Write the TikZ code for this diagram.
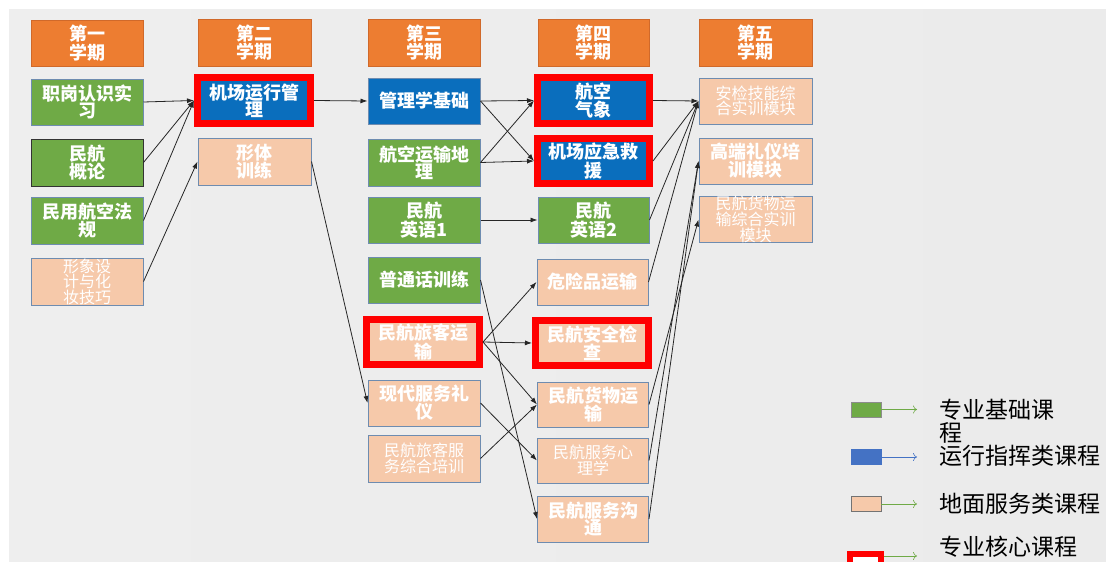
\documentclass[tikz,border=0pt]{standalone}
\usepackage{fontspec}
\newfontfamily\cjk{Noto Sans CJK SC}
\usetikzlibrary{arrows.meta}
\definecolor{hdrc}{HTML}{ED7D31}
\definecolor{hdrd}{HTML}{D0692A}
\definecolor{grn}{HTML}{6FAA46}
\definecolor{blu}{HTML}{0A6EBD}
\definecolor{pch}{HTML}{F6C9AA}
\definecolor{bordc}{HTML}{6E8CB0}
\definecolor{lblue}{HTML}{4472C4}
\definecolor{bgL}{HTML}{EEEEEE}
\definecolor{bgM}{HTML}{F8F8F8}
\definecolor{bgR}{HTML}{EBEBEB}
\begin{document}
\begin{tikzpicture}[x=1pt,y=-1pt,
  box/.style={draw=bordc, line width=1pt, minimum width=112pt, minimum height=46pt,
    inner sep=0pt, align=center, text=white, font=\cjk\bfseries\fontsize{18}{17}\selectfont},
  hdr/.style={box, fill=hdrc, draw=hdrd},
  gbox/.style={box, fill=grn},
  bbox/.style={box, fill=blu},
  pbox/.style={box, fill=pch},
  core/.style={draw=red, line width=7pt, minimum width=113pt, minimum height=46pt},
  small/.style={font=\cjk\fontsize{16}{15.5}\selectfont},
  arr/.style={-{Latex[length=7pt,width=5pt]}, line width=0.8pt, draw=black!85},
  lgsq/.style={draw=black!45, line width=0.6pt, minimum width=30pt, minimum height=15pt, inner sep=0pt},
  larr/.style={-{To[length=4pt,width=8pt]}, line width=0.6pt},
  lgtext/.style={anchor=west, inner sep=0pt, align=left, text=black, font=\cjk\fontsize{23}{23}\selectfont}
]
\useasboundingbox (0,0) rectangle (1106,562);
\fill[white] (0,0) rectangle (1106,562);
\shade[left color=bgL, middle color=bgM, right color=bgR] (9,9) rectangle (1106,561);

% column 1
\node[hdr] (h1) at (87,43) {第一\\学期};
\node[gbox] (c1a) at (87,102) {职岗认识实\\习};
\node[gbox, draw=black!80, minimum height=47pt] (c1b) at (87,162.5) {民航\\概论};
\node[gbox, minimum height=47pt] (c1c) at (87,220.5) {民用航空法\\规};
\node[pbox, small, minimum height=47pt] (c1d) at (87,281.5) {形象设\\计与化\\妆技巧};

% column 2
\node[hdr, minimum width=113pt, minimum height=47pt] (h2) at (254.5,42.5) {第二\\学期};
\node[bbox, core] (c2a) at (254,100.5) {机场运行管\\理};
\node[pbox, minimum width=113pt, minimum height=47pt] (c2b) at (254.5,161.5) {形体\\训练};

% column 3
\node[hdr, minimum height=47pt] (h3) at (424,42.5) {第三\\学期};
\node[bbox] (c3a) at (424,101) {管理学基础};
\node[gbox, minimum height=47pt] (c3b) at (424,162.5) {航空运输地\\理};
\node[gbox] (c3c) at (424,220) {民航\\英语1};
\node[gbox] (c3d) at (424,280) {普通话训练};
\node[pbox, core, minimum height=45pt] (c3e) at (423,342) {民航旅客运\\输};
\node[pbox] (c3f) at (424,403) {现代服务礼\\仪};
\node[pbox, small, minimum height=47pt] (c3g) at (424,458.5) {民航旅客服\\务综合培训};

% column 4
\node[hdr, minimum width=111pt, minimum height=47pt] (h4) at (593.5,42.5) {第四\\学期};
\node[bbox, core, minimum width=112pt] (c4a) at (593.5,100.5) {航空\\气象};
\node[bbox, core, minimum width=112pt, minimum height=45pt] (c4b) at (593.5,161) {机场应急救\\援};
\node[gbox, minimum width=111pt] (c4c) at (593.5,220) {民航\\英语2};
\node[pbox, minimum width=111pt] (c4d) at (592.5,282) {危险品运输};
\node[pbox, core, minimum height=45pt] (c4e) at (592,343) {民航安全检\\查};
\node[pbox, minimum width=111pt, minimum height=45pt] (c4f) at (593,404.5) {民航货物运\\输};
\node[pbox, small, minimum width=111pt, minimum height=45pt] (c4g) at (593,460.5) {民航服务心\\理学};
\node[pbox, minimum width=111pt] (c4h) at (593,519) {民航服务沟\\通};

% column 5
\node[hdr, minimum width=113pt, minimum height=47pt] (h5) at (755.5,42.5) {第五\\学期};
\node[pbox, small, minimum width=113pt] (c5a) at (755.5,101) {安检技能综\\合实训模块};
\node[pbox, minimum width=113pt] (c5b) at (755.5,161) {高端礼仪培\\训模块};
\node[pbox, small, minimum width=113pt, minimum height=45pt, font=\cjk\fontsize{16}{14.5}\selectfont] (c5c) at (755.5,219.5) {民航货物运\\输综合实训\\模块};

% connectors col1 -> col2
\draw[arr] (c1a.east) -- (c2a.west);
\draw[arr] (c1b.east) -- (c2a.west);
\draw[arr] (c1c.east) -- (c2a.west);
\draw[arr] (c1d.east) -- (c2b.west);
% col2 -> col3
\draw[arr] (c2a.east) -- (c3a.west);
\draw[arr] (c2b.east) -- (c3f.west);
% col3 -> col4
\draw[arr] (c3a.east) -- (c4a.west);
\draw[arr] (c3a.east) -- (c4b.west);
\draw[arr] (c3b.east) -- (c4a.west);
\draw[arr] (c3b.east) -- (c4b.west);
\draw[arr] (c3c.east) -- (c4c.west);
\draw[arr] (c3d.east) -- (c4h.west);
\draw[arr] (c3e.east) -- (c4d.west);
\draw[arr] (c3e.east) -- (c4e.west);
\draw[arr] (c3e.east) -- (c4f.west);
\draw[arr] (c3f.east) -- (c4g.west);
\draw[arr] (c3g.east) -- (c4f.west);
% col4 -> col5
\draw[arr] (c4a.east) -- (c5a.west);
\draw[arr] (c4b.east) -- (c5a.west);
\draw[arr] (c4c.east) -- (c5a.west);
\draw[arr] (c4d.east) -- (c5a.west);
\draw[arr] (c4f.east) -- (c5c.west);
\draw[arr] (c4g.east) -- (c5b.west);
\draw[arr] (c4h.east) -- (c5b.west);

% legend
\node[lgsq, fill=grn] (lg1) at (866,409.5) {};
\coordinate (lg1e) at (917,409.5);
\draw[larr, draw=grn] (lg1.east) -- (lg1e);
\node[lgtext] (lt1) at (939,421.5) {专业基础课\\程};

\node[lgsq, fill=lblue, draw=lblue] (lg2) at (866,457) {};
\coordinate (lg2e) at (917,457);
\draw[larr, draw=lblue] (lg2.east) -- (lg2e);
\node[lgtext] (lt2) at (939,456) {运行指挥类课程};

\node[lgsq, fill=pch, draw=black!55] (lg3) at (866,504) {};
\coordinate (lg3e) at (917,504);
\draw[larr, draw=grn] (lg3.east) -- (lg3e);
\node[lgtext] (lt3) at (939,504) {地面服务类课程};

\node[draw=red, line width=6pt, fill=white, minimum width=31pt, minimum height=14pt, inner sep=0pt] (lg4) at (865.5,561) {};
\coordinate (lg4e) at (917,556);
\draw[larr, draw=grn] (lg4.east |- lg4e) -- (lg4e);
\node[lgtext] (lt4) at (939,547) {专业核心课程};
\end{tikzpicture}
\end{document}
